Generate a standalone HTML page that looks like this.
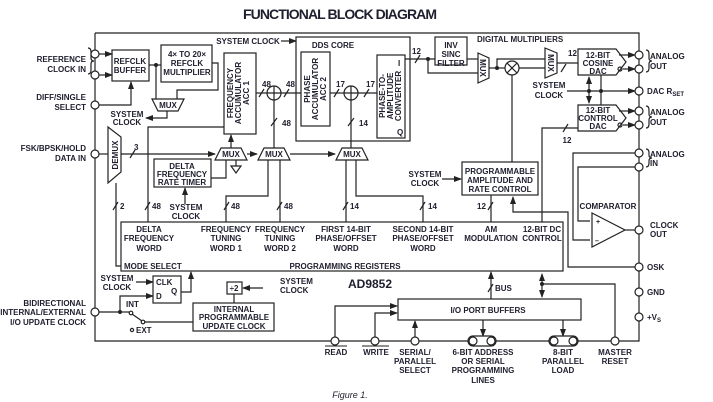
<!DOCTYPE html>
<html><head><meta charset="utf-8"><style>
html,body{margin:0;padding:0;background:#fff;width:713px;height:402px;overflow:hidden}
svg{display:block}
text{font-family:"Liberation Sans",sans-serif;font-weight:bold;font-size:8px;fill:#1e1e2e}
.m{text-anchor:middle}.e{text-anchor:end}
</style></head><body>
<svg width="713" height="402" viewBox="0 0 713 402" xmlns="http://www.w3.org/2000/svg">
<defs>
<marker id="a" markerWidth="8" markerHeight="6" refX="7" refY="3" orient="auto" markerUnits="userSpaceOnUse"><path d="M0,0 L8,3 L0,6 z" fill="#222"/></marker>
<marker id="b" markerWidth="8" markerHeight="6" refX="1" refY="3" orient="auto" markerUnits="userSpaceOnUse"><path d="M8,0 L0,3 L8,6 z" fill="#222"/></marker>
</defs>
<g stroke="#222" stroke-width="1.2" fill="none">
<!-- outer border -->
<polyline points="95,33 639,33 639,341 95,341 95,33"/>
<!-- left pin lines -->
<line x1="99" y1="54" x2="112" y2="54" marker-end="url(#a)"/>
<line x1="99" y1="75" x2="112" y2="75" marker-end="url(#a)"/>
<path d="M99,105 H131 V82" marker-end="url(#a)"/>
<!-- brace -->
<path d="M88,48 q3,0 3,4 v6 q0,3 3,3 q-3,0 -3,3 v6 q0,4 -3,4"/>
<!-- refclk -->
<rect x="112" y="50" width="37" height="31"/>
<rect x="161" y="45" width="51" height="37"/>
<line x1="149" y1="65" x2="161" y2="65"/>
<path d="M156,65 V99"/>
<path d="M212,63 H218 V90 H177 V99"/>
<polygon points="152,99 184,99 178,111 158,111"/>
<path d="M167,111 V118 H146" marker-end="url(#a)"/>
<!-- acc1 -->
<rect x="224" y="53" width="32" height="81"/>
<line x1="256" y1="93" x2="267" y2="93"/>
<circle cx="274" cy="93" r="7"/>
<path d="M274,86 V100 M267,93 H281"/>
<line x1="281" y1="93" x2="301" y2="93"/>
<!-- dds core -->
<rect x="296" y="37" width="114" height="104"/>
<rect x="301" y="52" width="29" height="74"/>
<line x1="330" y1="93" x2="344" y2="93"/>
<circle cx="351" cy="93" r="7"/>
<path d="M351,86 V100 M344,93 H358"/>
<line x1="358" y1="93" x2="377" y2="93"/>
<rect x="377" y="55" width="28" height="83"/>
<line x1="281" y1="41" x2="296" y2="41" marker-end="url(#a)"/>
<!-- slashes -->
<path d="M259,97 l5,-8 M284,97 l5,-8 M334,97 l5,-8 M364,97 l5,-8 M415,63 l5,-8 M271,126 l6,-8 M348,126 l6,-8 M130,158 l5,-8 M113,210 l5,-8 M145,210 l5,-8 M224,210 l5,-8 M277,210 l5,-8 M343,210 l5,-8 M420,210 l5,-8 M488,210 l5,-8 M561,72 l5,-8 M563,132 l5,-8 M488,292 l5,-8"/>
<!-- I path -->
<line x1="405" y1="59" x2="435" y2="59"/>
<rect x="435" y="37" width="32" height="28"/>
<line x1="467" y1="59" x2="478" y2="59"/>
<path d="M428,59 V73 H478"/>
<polygon points="478,53 489,58 489,78 478,83"/>
<line x1="489" y1="68" x2="505" y2="68"/>
<path d="M497,68 V59 H545"/>
<circle cx="512" cy="68" r="7"/>
<path d="M507,63 l10,10 M517,63 l-10,10"/>
<line x1="519" y1="68" x2="545" y2="68"/>
<polygon points="545,48 557,53 557,73 545,78"/>
<line x1="557" y1="63" x2="578" y2="63"/>
<line x1="512" y1="75" x2="512" y2="162"/>
<!-- DACs -->
<polygon points="578,49 616,49 626,62 616,75 578,75"/>
<polygon points="578,105 616,105 626,118 616,131 578,131"/>
<line x1="619" y1="55" x2="635" y2="55" marker-end="url(#a)"/>
<line x1="623" y1="69" x2="635" y2="69" marker-end="url(#a)"/>
<circle cx="620" cy="69" r="2"/>
<line x1="619" y1="111" x2="635" y2="111" marker-end="url(#a)"/>
<line x1="623" y1="125" x2="635" y2="125" marker-end="url(#a)"/>
<circle cx="620" cy="125" r="2"/>
<line x1="567" y1="91" x2="635" y2="91" marker-end="url(#a)"/>
<line x1="589" y1="77" x2="589" y2="103" marker-start="url(#b)" marker-end="url(#a)"/>
<line x1="601" y1="75" x2="601" y2="105"/>
<path d="M542,222 V128 H578"/>
<!-- right brace -->
<path d="M646,50 q3,0 3,4 v4 q0,3 3,3 q-3,0 -3,3 v4 q0,4 -3,4 M646,106 q3,0 3,4 v4 q0,3 3,3 q-3,0 -3,3 v4 q0,4 -3,4 M646,149 q3,0 3,4 v2 q0,3 3,3 q-3,0 -3,3 v2 q0,4 -3,4"/>
<!-- comparator -->
<path d="M635,153 H573 V240 H590" />
<path d="M635,167 H578 V221 H590"/>
<polygon points="592,213 625,230 592,247"/>
<line x1="625" y1="230" x2="635" y2="230"/>
<path d="M635,267 H568 V212 H513 V197" marker-end="url(#a)"/>
<!-- prog amp -->
<rect x="462" y="162" width="76" height="33"/>
<line x1="442" y1="179" x2="461" y2="179" marker-end="url(#a)"/>
<line x1="491" y1="195" x2="491" y2="222"/>
<!-- demux & muxes -->
<polygon points="108,127 121,137 121,172 108,183"/>
<line x1="99" y1="154" x2="108" y2="154"/>
<line x1="121" y1="154" x2="215" y2="154" marker-end="url(#a)"/>
<polygon points="221,148 241,148 247,160 215,160"/>
<polygon points="264,148 284,148 290,160 258,160"/>
<polygon points="342,148 362,148 368,160 336,160"/>
<line x1="247" y1="154" x2="257" y2="154" marker-end="url(#a)"/>
<line x1="290" y1="154" x2="335" y2="154" marker-end="url(#a)"/>
<line x1="231" y1="148" x2="231" y2="135" marker-end="url(#a)"/>
<path d="M236,160 V166 M231,166 H241 L236,173 Z"/>
<rect x="154" y="159" width="57" height="28"/>
<path d="M211,178 H226 V160"/>
<line x1="185" y1="204" x2="185" y2="188" marker-end="url(#a)"/>
<line x1="274" y1="148" x2="274" y2="100"/>
<line x1="351" y1="148" x2="351" y2="100"/>
<path d="M224,127 H148 V222"/>
<path d="M268,160 V196 H226 V222"/>
<path d="M280,160 V222"/>
<path d="M346,160 V222"/>
<path d="M356,160 V196 H423 V222"/>
<path d="M116,183 V266 H121"/>
<!-- registers -->
<rect x="121" y="222" width="442" height="49"/>
<!-- flip flop -->
<rect x="153" y="276" width="28" height="27"/>
<line x1="136" y1="282" x2="153" y2="282" marker-end="url(#a)"/>
<path d="M181,292 H191 V272" marker-end="url(#a)"/>
<path d="M99,312 H120 M120,312 V296 H153" marker-end="url(#a)"/>
<line x1="120" y1="312" x2="129" y2="312"/>
<circle cx="131" cy="313" r="1.8"/>
<line x1="132" y1="314" x2="142" y2="321"/>
<circle cx="143" cy="322" r="1.8"/>
<line x1="145" y1="322" x2="193" y2="322"/>
<circle cx="132" cy="330" r="1.6"/>
<rect x="193" y="303" width="81" height="28"/>
<rect x="227" y="282" width="15" height="12"/>
<line x1="234" y1="294" x2="234" y2="303"/>
<line x1="263" y1="288" x2="243" y2="288" marker-end="url(#a)"/>
<!-- IO -->
<rect x="398" y="299" width="183" height="21"/>
<line x1="491" y1="299" x2="491" y2="272" marker-end="url(#a)"/>
<line x1="542" y1="274" x2="542" y2="297" marker-start="url(#b)" marker-end="url(#a)"/>
<path d="M542,284 H615 V337"/>
<path d="M335,337 V306 H397" marker-end="url(#a)"/>
<path d="M375,337 V313 H397" marker-end="url(#a)"/>
<line x1="415" y1="337" x2="415" y2="321" marker-end="url(#a)"/>
<line x1="483" y1="320" x2="483" y2="336" marker-end="url(#a)"/>
<line x1="563" y1="320" x2="563" y2="336" marker-end="url(#a)"/>
<rect x="468" y="336" width="28" height="10" rx="5" fill="#fff"/>
<rect x="549" y="336" width="29" height="10" rx="5" fill="#fff"/>
</g>
<g fill="#222">
<circle cx="156" cy="65" r="2"/><circle cx="428" cy="59" r="2"/><circle cx="497" cy="68" r="2"/>
<circle cx="589" cy="91" r="2"/><circle cx="601" cy="91" r="2"/><circle cx="120" cy="312" r="2"/><circle cx="542" cy="284" r="2"/>
</g>
<g stroke="#222" stroke-width="1.2" fill="#fff">
<circle cx="95" cy="54" r="4"/><circle cx="95" cy="75" r="4"/><circle cx="95" cy="105" r="4"/><circle cx="95" cy="154" r="4"/><circle cx="95" cy="312" r="4"/>
<circle cx="639" cy="55" r="4"/><circle cx="639" cy="69" r="4"/><circle cx="639" cy="91" r="4"/><circle cx="639" cy="111" r="4"/><circle cx="639" cy="125" r="4"/><circle cx="639" cy="153" r="4"/><circle cx="639" cy="167" r="4"/><circle cx="639" cy="230" r="4"/><circle cx="639" cy="267" r="4"/><circle cx="639" cy="292" r="4"/><circle cx="639" cy="317" r="4"/>
<circle cx="335" cy="341" r="4"/><circle cx="375" cy="341" r="4"/><circle cx="415" cy="341" r="4"/><circle cx="473" cy="341" r="4"/><circle cx="491" cy="341" r="4"/><circle cx="554" cy="341" r="4"/><circle cx="573" cy="341" r="4"/><circle cx="615" cy="341" r="4"/>
</g>
<text x="340" y="19" class="m" style="font-size:14px" textLength="194">FUNCTIONAL BLOCK DIAGRAM</text>
<!-- left labels -->
<text x="86" y="62" class="e">REFERENCE</text><text x="86" y="72" class="e">CLOCK IN</text>
<text x="86" y="100" class="e">DIFF/SINGLE</text><text x="86" y="110" class="e">SELECT</text>
<text x="86" y="151" class="e">FSK/BPSK/HOLD</text><text x="86" y="161" class="e">DATA IN</text>
<text x="86" y="306" class="e">BIDIRECTIONAL</text><text x="86" y="315" class="e">INTERNAL/EXTERNAL</text><text x="86" y="325" class="e">I/O UPDATE CLOCK</text>
<!-- blocks -->
<text x="130" y="64" class="m">REFCLK</text><text x="130" y="73" class="m">BUFFER</text>
<text x="187" y="57" class="m">4× TO 20×</text><text x="187" y="66" class="m">REFCLK</text><text x="187" y="75" class="m">MULTIPLIER</text>
<text x="168" y="108" class="m">MUX</text>
<text x="127" y="117" class="m">SYSTEM</text><text x="127" y="125" class="m">CLOCK</text>
<text x="248" y="44" class="m">SYSTEM CLOCK</text>
<text x="333" y="48" class="m">DDS CORE</text>
<text x="477" y="42">DIGITAL MULTIPLIERS</text>
<g transform="translate(240,93) rotate(-90)"><text y="-7" class="m">FREQUENCY</text><text y="1" class="m">ACCUMULATOR</text><text y="9" class="m">ACC 1</text></g>
<g transform="translate(316,89) rotate(-90)"><text y="-6" class="m">PHASE</text><text y="2" class="m">ACCUMULATOR</text><text y="10" class="m">ACC 2</text></g>
<g transform="translate(391,96) rotate(-90)"><text y="-6" class="m">PHASE-TO-</text><text y="2" class="m">AMPLITUDE</text><text y="10" class="m">CONVERTER</text></g>
<text x="398" y="66">I</text><text x="397" y="135">Q</text>
<text x="262" y="87">48</text><text x="286" y="87">48</text><text x="336" y="87">17</text><text x="366" y="87">17</text>
<text x="412" y="54">12</text><text x="282" y="126">48</text><text x="359" y="126">14</text>
<text x="451" y="48" class="m">INV</text><text x="451" y="57" class="m">SINC</text><text x="451" y="66" class="m">FILTER</text>
<g transform="translate(483,68) rotate(90)"><text y="3" class="m">MUX</text></g>
<g transform="translate(551,63) rotate(90)"><text y="3" class="m">MUX</text></g>
<text x="568" y="56">12</text>
<text x="598" y="58" class="m">12-BIT</text><text x="598" y="66" class="m">COSINE</text><text x="598" y="74" class="m">DAC</text>
<text x="598" y="113" class="m">12-BIT</text><text x="598" y="121" class="m">CONTROL</text><text x="598" y="129" class="m">DAC</text>
<text x="549" y="88" class="m">SYSTEM</text><text x="549" y="98" class="m">CLOCK</text>
<text x="567" y="143" class="m">12</text>
<text x="650" y="59">ANALOG</text><text x="650" y="69">OUT</text>
<text x="647" y="94">DAC R<tspan style="font-size:6px" dy="2">SET</tspan></text>
<text x="650" y="115">ANALOG</text><text x="650" y="125">OUT</text>
<text x="650" y="157">ANALOG</text><text x="650" y="166">IN</text>
<text x="650" y="228">CLOCK</text><text x="650" y="237">OUT</text>
<text x="647" y="270">OSK</text><text x="647" y="295">GND</text>
<text x="647" y="320">+V<tspan style="font-size:6px" dy="2">S</tspan></text>
<text x="608" y="209" class="m">COMPARATOR</text>
<text x="596" y="224" style="font-size:7px">+</text><text x="595" y="243" style="font-size:7px">–</text>
<text x="500" y="174" class="m">PROGRAMMABLE</text><text x="500" y="183" class="m">AMPLITUDE AND</text><text x="500" y="192" class="m">RATE CONTROL</text>
<text x="425" y="177" class="m">SYSTEM</text><text x="425" y="186" class="m">CLOCK</text>
<g transform="translate(115,155) rotate(-90)"><text y="3" class="m">DEMUX</text></g>
<text x="134" y="150">3</text>
<text x="231" y="157" class="m">MUX</text><text x="274" y="157" class="m">MUX</text><text x="352" y="157" class="m">MUX</text>
<text x="182" y="169" class="m">DELTA</text><text x="182" y="177" class="m">FREQUENCY</text><text x="182" y="185" class="m">RATE TIMER</text>
<text x="186" y="210" class="m">SYSTEM</text><text x="186" y="219" class="m">CLOCK</text>
<text x="120" y="209">2</text><text x="152" y="209">48</text><text x="231" y="209">48</text><text x="284" y="209">48</text><text x="350" y="209">14</text><text x="428" y="209">14</text><text x="477" y="209">12</text>
<text x="149" y="232" class="m">DELTA</text><text x="149" y="241" class="m">FREQUENCY</text><text x="149" y="251" class="m">WORD</text>
<text x="226" y="232" class="m">FREQUENCY</text><text x="226" y="241" class="m">TUNING</text><text x="226" y="251" class="m">WORD 1</text>
<text x="280" y="232" class="m">FREQUENCY</text><text x="280" y="241" class="m">TUNING</text><text x="280" y="251" class="m">WORD 2</text>
<text x="346" y="232" class="m">FIRST 14-BIT</text><text x="346" y="241" class="m">PHASE/OFFSET</text><text x="346" y="251" class="m">WORD</text>
<text x="423" y="232" class="m">SECOND 14-BIT</text><text x="423" y="241" class="m">PHASE/OFFSET</text><text x="423" y="251" class="m">WORD</text>
<text x="491" y="232" class="m">AM</text><text x="491" y="241" class="m">MODULATION</text>
<text x="542" y="232" class="m">12-BIT DC</text><text x="542" y="241" class="m">CONTROL</text>
<text x="124" y="269">MODE SELECT</text>
<text x="345" y="269" class="m">PROGRAMMING REGISTERS</text>
<text x="348" y="288" style="font-size:12px">AD9852</text>
<text x="117" y="281" class="m">SYSTEM</text><text x="117" y="290" class="m">CLOCK</text>
<text x="156" y="285">CLK</text><text x="156" y="299">D</text><text x="171" y="294">Q</text>
<text x="234" y="291" class="m">÷2</text>
<text x="280" y="284">SYSTEM</text><text x="280" y="293">CLOCK</text>
<text x="126" y="307">INT</text><text x="136" y="333">EXT</text>
<text x="234" y="312" class="m">INTERNAL</text><text x="234" y="320" class="m">PROGRAMMABLE</text><text x="234" y="329" class="m">UPDATE CLOCK</text>
<text x="495" y="291">BUS</text>
<text x="488" y="313" class="m">I/O PORT BUFFERS</text>
<text x="336" y="355" class="m">READ</text><line x1="325" y1="346" x2="347" y2="346" stroke="#222"/>
<text x="376" y="355" class="m">WRITE</text><line x1="362" y1="346" x2="389" y2="346" stroke="#222"/>
<text x="415" y="355" class="m">SERIAL/</text><text x="415" y="364" class="m">PARALLEL</text><text x="415" y="373" class="m">SELECT</text>
<text x="483" y="355" class="m">6-BIT ADDRESS</text><text x="483" y="364" class="m">OR SERIAL</text><text x="483" y="373" class="m">PROGRAMMING</text><text x="483" y="383" class="m">LINES</text>
<text x="563" y="355" class="m">8-BIT</text><text x="563" y="364" class="m">PARALLEL</text><text x="563" y="373" class="m">LOAD</text>
<text x="615" y="355" class="m">MASTER</text><text x="615" y="364" class="m">RESET</text>
<text x="350" y="398" class="m" style="font-weight:normal;font-style:italic;font-size:9px">Figure 1.</text>
</svg>
</body></html>
